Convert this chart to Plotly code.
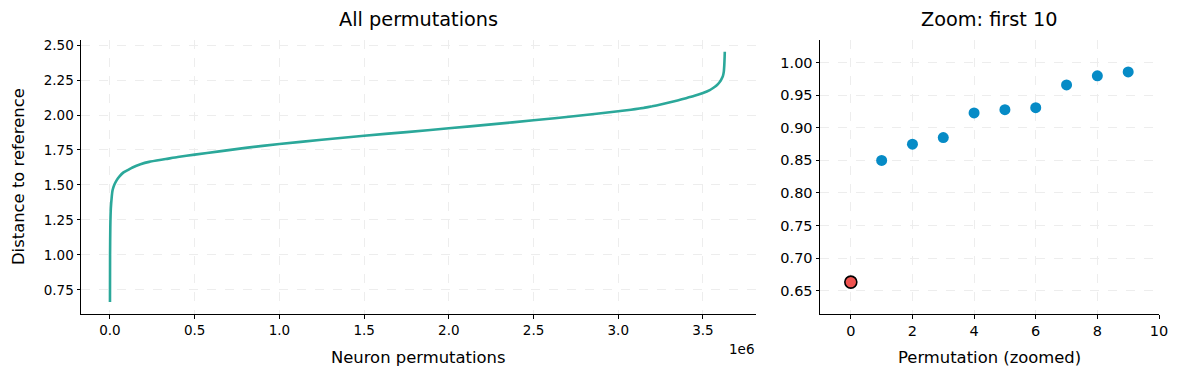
import plotly.graph_objects as go

# ---- data ----
perm_index = [0, 500, 2000, 5000, 10000, 15000, 25000, 40000, 55000, 80000, 110000,
              133000, 180000, 231000, 329000, 400000, 500000, 645000, 800000, 1000000,
              1250000, 1500000, 1750000, 2000000, 2250000, 2500000, 2750000, 3000000,
              3050000, 3100000, 3150000, 3200000, 3250000, 3300000, 3350000, 3400000,
              3450000, 3500000, 3540000, 3560000, 3580000, 3600000, 3610000, 3618000,
              3623000, 3626000, 3628000, 3628799]
perm_distance = [0.663, 1.00, 1.20, 1.33, 1.41, 1.46, 1.50, 1.535, 1.56, 1.59, 1.61,
                 1.625, 1.648, 1.665, 1.685, 1.700, 1.717, 1.740, 1.765, 1.793,
                 1.823, 1.852, 1.878, 1.905, 1.933, 1.962, 1.993, 2.027,
                 2.034, 2.042, 2.051, 2.062, 2.075, 2.089, 2.104, 2.120,
                 2.137, 2.157, 2.178, 2.193, 2.211, 2.238, 2.258, 2.280,
                 2.310, 2.360, 2.420, 2.452]

zoom_x = [0, 1, 2, 3, 4, 5, 6, 7, 8, 9]
zoom_y = [0.663, 0.850, 0.875, 0.885, 0.923, 0.928, 0.931, 0.966, 0.980, 0.986]

left_xticks = [0, 500000, 1000000, 1500000, 2000000, 2500000, 3000000, 3500000]
left_xticktext = ["0.0", "0.5", "1.0", "1.5", "2.0", "2.5", "3.0", "3.5"]
left_yticks = [0.75, 1.00, 1.25, 1.50, 1.75, 2.00, 2.25, 2.50]
right_xticks = [0, 2, 4, 6, 8, 10]
right_yticks = [0.65, 0.70, 0.75, 0.80, 0.85, 0.90, 0.95, 1.00]

TEAL = "#2BA89A"
BLUE = "#068BC6"
RED = "#EF5350"
FONT = "DejaVu Sans"

# page body has an 8px margin: figure sits at (8, 8) inside the 1178x378 window
OFF = 8
W, H = 1178 - OFF, 378 - OFF


def px(x):
    return (x - OFF) / W


def py(y):
    return 1 - (y - OFF) / H


fig = go.Figure()

fig.add_trace(go.Scatter(x=perm_index, y=perm_distance, mode="lines",
                         line=dict(color=TEAL, width=2.6, shape="spline", smoothing=0.5),
                         xaxis="x", yaxis="y", showlegend=False, hoverinfo="skip"))
fig.add_trace(go.Scatter(x=zoom_x[1:], y=zoom_y[1:], mode="markers",
                         marker=dict(color=BLUE, size=11, line=dict(width=0)),
                         xaxis="x2", yaxis="y2", showlegend=False))
fig.add_trace(go.Scatter(x=zoom_x[:1], y=zoom_y[:1], mode="markers",
                         marker=dict(color=RED, size=12, line=dict(color="black", width=1.6)),
                         xaxis="x2", yaxis="y2", showlegend=False))

axis_common = dict(showline=True, linecolor="black", linewidth=1, ticks="outside",
                   ticklen=3.5, tickcolor="black", tickwidth=1, showgrid=True,
                   gridcolor="#ededed", griddash="dash", gridwidth=0.8,
                   zeroline=False, mirror=False, automargin=False)

fig.update_layout(
    width=W, height=H, margin=dict(l=0, r=0, t=0, b=0, pad=0),
    plot_bgcolor="white", paper_bgcolor="white",
    font=dict(family=FONT, color="black"),
    xaxis=dict(domain=[px(81), px(756)], range=[-171000, 3813000], tickvals=left_xticks,
               ticktext=left_xticktext, anchor="y", tickfont=dict(size=13.5), **axis_common),
    yaxis=dict(domain=[py(314), py(40)], range=[0.578, 2.536], tickvals=left_yticks,
               tickformat=".2f", anchor="x", tickfont=dict(size=13.5), **axis_common),
    xaxis2=dict(domain=[px(820), px(1159)], range=[-1, 10], tickvals=right_xticks,
                anchor="y2", tickfont=dict(size=14.5), **axis_common),
    yaxis2=dict(domain=[py(314), py(40)], range=[0.614, 1.035], tickvals=right_yticks,
                tickformat=".2f", anchor="x2", tickfont=dict(size=14.5), **axis_common),
)

ann = [
    dict(text="All permutations", x=px((81 + 756) / 2), y=py(19), size=19.3),
    dict(text="Zoom: first 10", x=px((820 + 1159) / 2), y=py(19), size=19.3),
    dict(text="Neuron permutations", x=px((81 + 756) / 2), y=py(357), size=16.4),
    dict(text="Permutation (zoomed)", x=px((820 + 1159) / 2), y=py(357), size=16.4),
]
for a in ann:
    fig.add_annotation(text=a["text"], x=a["x"], y=a["y"], xref="paper", yref="paper",
                       xanchor="center", yanchor="middle", showarrow=False,
                       font=dict(size=a["size"], family=FONT, color="black"))
fig.add_annotation(text="Distance to reference", x=px(18), y=py(177), xref="paper",
                   yref="paper", textangle=-90, showarrow=False, xanchor="center",
                   yanchor="middle", font=dict(size=16.4, family=FONT, color="black"))
fig.add_annotation(text="1e6", x=px(756), y=py(349), xref="paper", yref="paper",
                   xanchor="right", yanchor="middle", showarrow=False,
                   font=dict(size=13.5, family=FONT, color="black"))

fig.write_html("out.html")
